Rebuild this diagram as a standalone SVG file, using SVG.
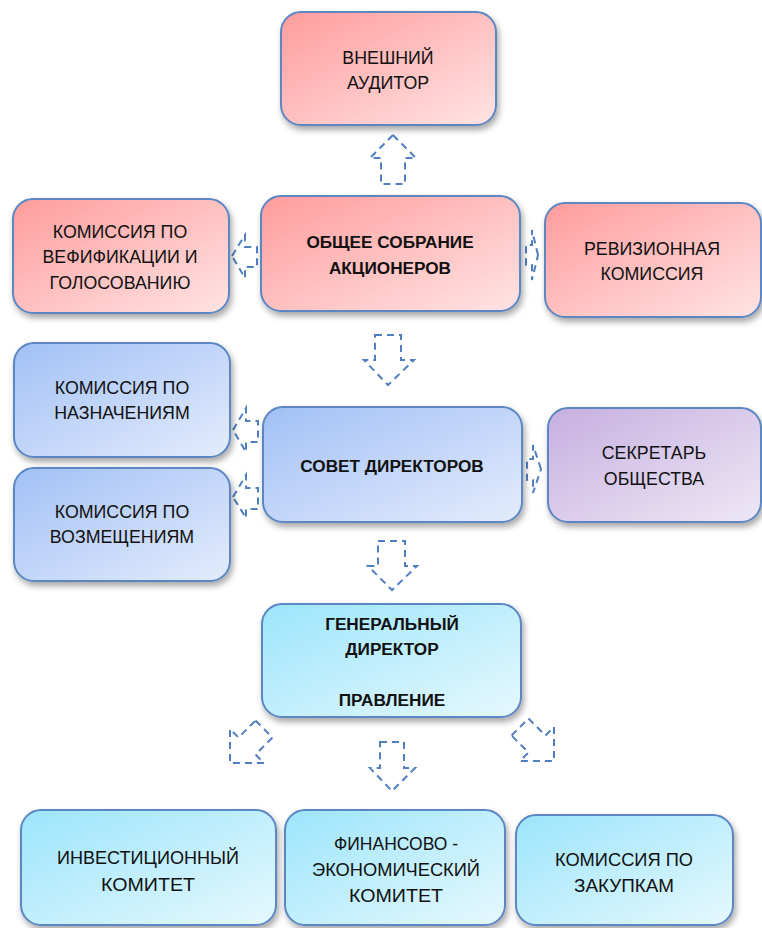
<svg xmlns="http://www.w3.org/2000/svg" width="762" height="928" viewBox="0 0 762 928">
<style>
.box{stroke:#5b87c2;stroke-width:2}
.t{font-family:"Liberation Sans","Open Sans",sans-serif;font-size:17.8px;fill:#111;text-anchor:middle}
.b{font-weight:bold;font-size:17.2px}
.n{font-size:19px}
.arr{fill:none;stroke:#4f7fc0;stroke-width:2;stroke-dasharray:7,5}
</style>
<defs>
<linearGradient id="gP" x1="0" y1="0" x2="1" y2="1"><stop offset="0" stop-color="#ff9c9c"/><stop offset="1" stop-color="#ffe4e4"/></linearGradient>
<linearGradient id="gB" x1="0" y1="0" x2="1" y2="1"><stop offset="0" stop-color="#a2c0f6"/><stop offset="1" stop-color="#e3ecfc"/></linearGradient>
<linearGradient id="gV" x1="0" y1="0" x2="1" y2="1"><stop offset="0" stop-color="#c6afe0"/><stop offset="1" stop-color="#eee8f5"/></linearGradient>
<linearGradient id="gC" x1="0" y1="0" x2="1" y2="1"><stop offset="0" stop-color="#9ce5fb"/><stop offset="1" stop-color="#e6f8fe"/></linearGradient>
<filter id="sh" x="-10%" y="-10%" width="125%" height="130%"><feDropShadow dx="2" dy="4" stdDeviation="3" flood-color="#000" flood-opacity="0.35"/></filter>
</defs>

<g id="connectors">
<path class="arr" d="M393,135 L416,158 L405,158 L405,184 L381,184 L381,158 L370,158 Z"/>
<path class="arr" d="M375,335 L401,335 L401,360 L414,360 L388,385 L364,360 L375,360 Z"/>
<path class="arr" d="M378,541 L405,541 L405,566 L417,566 L392,590 L368,566 L378,566 Z"/>
<path class="arr" d="M380,742 L404,742 L404,768 L415,768 L392,791 L370,768 L380,768 Z"/>
<path class="arr" transform="translate(247,746) rotate(45)" d="M-12,-24 L12,-24 L12,0 L24,0 L0,24 L-24,0 L-12,0 Z"/>
<path class="arr" transform="translate(537,744) rotate(-45)" d="M-12,-24 L12,-24 L12,0 L24,0 L0,24 L-24,0 L-12,0 Z"/>
<path class="arr" d="M232,256 L245,235 L245,247 L257,247 L257,267 L245,267 L245,278 Z"/>
<path class="arr" d="M538,255 L532,230 L532,245 L526,245 L526,265 L532,265 L532,280 Z"/>
<path class="arr" d="M233,430 L246,408 L246,421 L258,421 L258,442 L246,442 L246,452 Z"/>
<path class="arr" d="M233,497 L246,475 L246,488 L258,488 L258,509 L246,509 L246,518 Z"/>
<path class="arr" d="M541,469 L533,445 L533,459 L527,459 L527,480 L533,480 L533,493 Z"/>
</g>

<g id="auditor">
<rect class="box" x="281" y="12" width="215" height="113" rx="20" fill="url(#gP)" filter="url(#sh)"/>
<text class="t" x="388" y="64">ВНЕШНИЙ</text>
<text class="t" x="388" y="89">АУДИТОР</text>
</g>

<g id="vote">
<rect class="box" x="13" y="199" width="216" height="114" rx="20" fill="url(#gP)" filter="url(#sh)"/>
<text class="t" x="120" y="238">КОМИССИЯ ПО</text>
<text class="t" x="120" y="263">ВЕФИФИКАЦИИ И</text>
<text class="t" x="120" y="289">ГОЛОСОВАНИЮ</text>
</g>

<g id="meeting">
<rect class="box" x="261" y="196" width="259" height="115" rx="20" fill="url(#gP)" filter="url(#sh)"/>
<text class="t b" x="390" y="248">ОБЩЕЕ СОБРАНИЕ</text>
<text class="t b" x="390" y="274">АКЦИОНЕРОВ</text>
</g>

<g id="audit">
<rect class="box" x="545" y="203" width="216" height="114" rx="20" fill="url(#gP)" filter="url(#sh)"/>
<text class="t" x="652" y="255">РЕВИЗИОННАЯ</text>
<text class="t" x="652" y="280">КОМИССИЯ</text>
</g>

<g id="appoint">
<rect class="box" x="14" y="343" width="216" height="114" rx="20" fill="url(#gB)" filter="url(#sh)"/>
<text class="t" x="122" y="394">КОМИССИЯ ПО</text>
<text class="t" x="122" y="419">НАЗНАЧЕНИЯМ</text>
</g>

<g id="board">
<rect class="box" x="263" y="407" width="259" height="115" rx="20" fill="url(#gB)" filter="url(#sh)"/>
<text class="t b" x="392" y="472">СОВЕТ ДИРЕКТОРОВ</text>
</g>

<g id="secretary">
<rect class="box" x="548" y="408" width="213" height="114" rx="20" fill="url(#gV)" filter="url(#sh)"/>
<text class="t" x="654" y="459">СЕКРЕТАРЬ</text>
<text class="t" x="654" y="485">ОБЩЕСТВА</text>
</g>

<g id="remun">
<rect class="box" x="14" y="468" width="216" height="113" rx="20" fill="url(#gB)" filter="url(#sh)"/>
<text class="t" x="122" y="518">КОМИССИЯ ПО</text>
<text class="t" x="122" y="543">ВОЗМЕЩЕНИЯМ</text>
</g>

<g id="ceo">
<rect class="box" x="262" y="604" width="259" height="113" rx="20" fill="url(#gC)" filter="url(#sh)"/>
<text class="t b" x="392" y="630">ГЕНЕРАЛЬНЫЙ</text>
<text class="t b" x="392" y="655">ДИРЕКТОР</text>
<text class="t b" x="392" y="706">ПРАВЛЕНИЕ</text>
</g>

<g id="invest">
<rect class="box" x="21" y="810" width="255" height="115" rx="20" fill="url(#gC)" filter="url(#sh)"/>
<text class="t n" x="148" y="864" textLength="182" lengthAdjust="spacingAndGlyphs">ИНВЕСТИЦИОННЫЙ</text>
<text class="t n" x="148" y="891" textLength="94" lengthAdjust="spacingAndGlyphs">КОМИТЕТ</text>
</g>

<g id="finance">
<rect class="box" x="285" y="810" width="220" height="115" rx="20" fill="url(#gC)" filter="url(#sh)"/>
<text class="t n" x="396" y="850" textLength="124" lengthAdjust="spacingAndGlyphs">ФИНАНСОВО -</text>
<text class="t n" x="396" y="876" textLength="168" lengthAdjust="spacingAndGlyphs">ЭКОНОМИЧЕСКИЙ</text>
<text class="t n" x="396" y="902" textLength="94" lengthAdjust="spacingAndGlyphs">КОМИТЕТ</text>
</g>

<g id="purchase">
<rect class="box" x="516" y="815" width="217" height="110" rx="20" fill="url(#gC)" filter="url(#sh)"/>
<text class="t n" x="624" y="866" textLength="138" lengthAdjust="spacingAndGlyphs">КОМИССИЯ ПО</text>
<text class="t n" x="624" y="892" textLength="100" lengthAdjust="spacingAndGlyphs">ЗАКУПКАМ</text>
</g>
</svg>
